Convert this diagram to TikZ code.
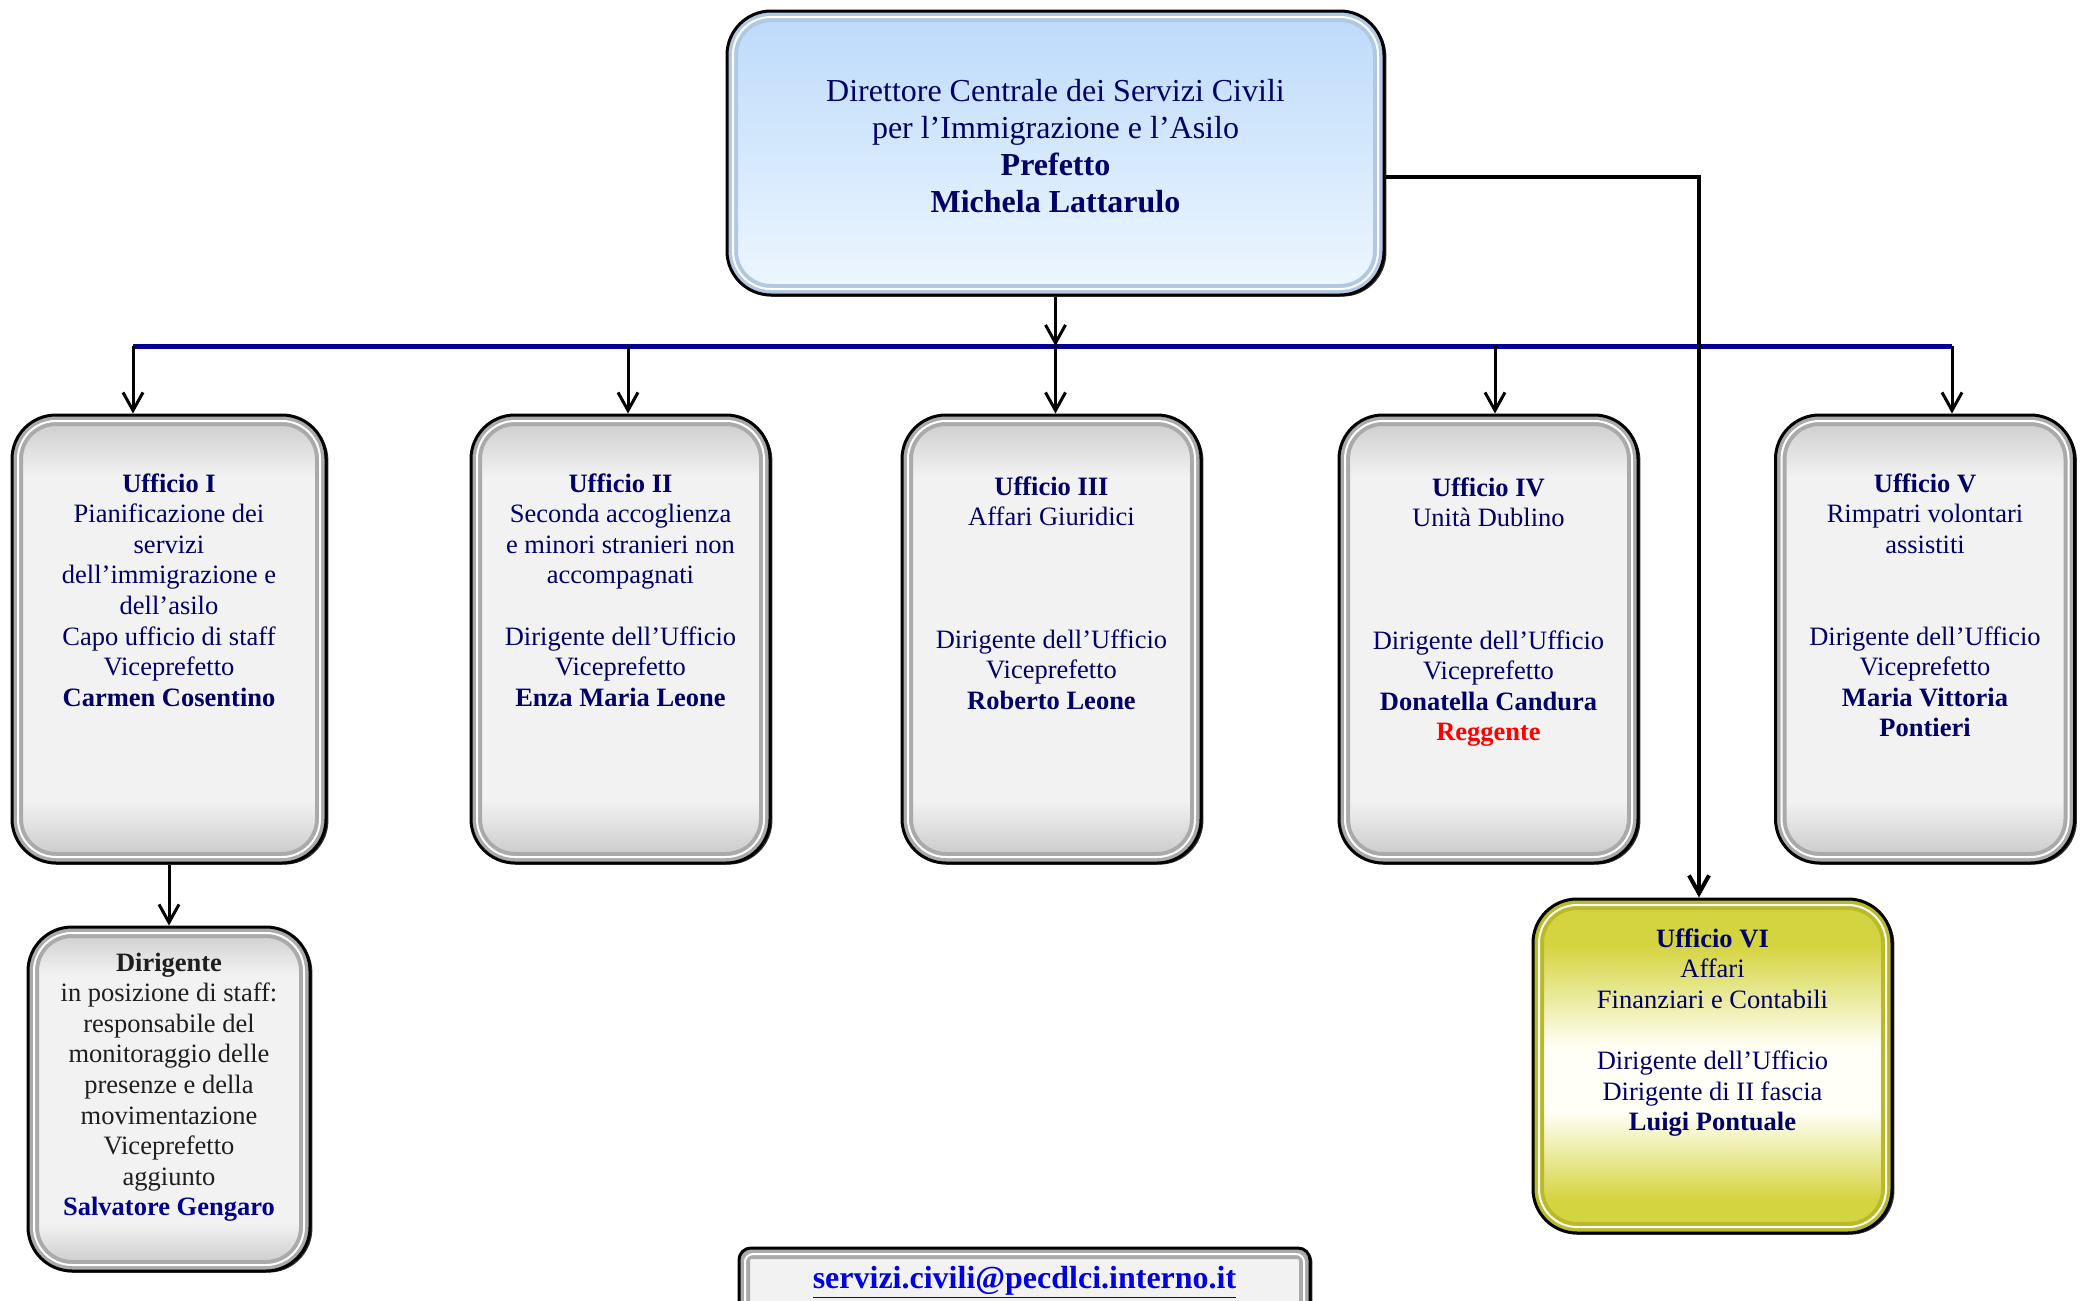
\documentclass[tikz,border=0pt]{standalone}
\usepackage{fontspec}
\setmainfont{Liberation Serif}
\usetikzlibrary{positioning,arrows.meta,shadows}

\definecolor{deptnavy}{RGB}{0,0,102}
\definecolor{busblue}{RGB}{0,0,150}
\definecolor{staffblue}{RGB}{0,0,140}
\definecolor{staffink}{RGB}{30,30,30}
\definecolor{mailblue}{RGB}{0,0,220}
\definecolor{reggred}{RGB}{255,0,0}
\definecolor{bandgray}{RGB}{170,170,170}
\definecolor{capblue}{RGB}{188,218,250}
\definecolor{baseblue}{RGB}{238,247,255}
\definecolor{bandblue}{RGB}{178,200,226}
\definecolor{contab}{RGB}{212,212,64}
\definecolor{bandolive}{RGB}{186,186,40}

\pgfdeclareverticalshading{officegray}{100bp}{color(0bp)=(gray!45); color(25bp)=(gray!45); color(32bp)=(gray!10); color(68bp)=(gray!10); color(75bp)=(gray!42); color(100bp)=(gray!42)}
\pgfdeclareverticalshading{chiefblue}{100bp}{color(0bp)=(baseblue); color(25bp)=(baseblue); color(75bp)=(capblue); color(100bp)=(capblue)}
\pgfdeclareverticalshading{contabyellow}{100bp}{color(0bp)=(contab); color(25bp)=(contab); color(30bp)=(contab); color(43bp)=(yellow!4); color(53bp)=(yellow!4); color(68bp)=(contab); color(75bp)=(contab); color(100bp)=(contab)}

\begin{document}
\begin{tikzpicture}[x=0.5pt,y=-0.5pt,on grid,
    bevel/.style n args={3}{path picture={
        \draw[#1,line width=11pt,rounded corners=#2]
          (path picture bounding box.south west) rectangle (path picture bounding box.north east);
        \draw[white,line width=1pt,rounded corners=#3]
          ([shift={(3pt,3pt)}]path picture bounding box.south west)
          rectangle ([shift={(-3pt,-3pt)}]path picture bounding box.north east);}},
    box/.style={draw=black,line width=1.5pt,rounded corners=22pt,align=flush center,
        inner xsep=4pt,inner ysep=0pt,
        drop shadow={shadow xshift=1.2pt,shadow yshift=-0.8pt,opacity=1,fill=black!80}},
    office/.style={box,shading=officegray,bevel={bandgray}{22pt}{19pt},text width=#1,
        text=deptnavy,font=\fontsize{13.25}{15.3}\selectfont,
        text height=38.5pt,text depth=185.5pt},
    office/.default=141.5pt,
    arr/.style={-{Straight Barb[length=9pt,width=10pt]},line width=1.5pt}]

    \useasboundingbox (0,0) rectangle (2085,1301);

    % direzione
    \node[box,shading=chiefblue,bevel={bandblue}{22pt}{19pt},text width=320.5pt,
          text height=45pt,text depth=97pt,text=deptnavy,font=\fontsize{16}{18.5}\selectfont]
        (chief) at (1055.5,153)
        {Direttore Centrale dei Servizi Civili\\per l'Immigrazione e l'Asilo\\
         \textbf{Prefetto}\\\textbf{Michela Lattarulo}};

    % uffici
    \node[office=149pt] (u1) at (169,639)
        {\textbf{Ufficio I}\\Pianificazione dei\\servizi\\dell'immigrazione e\\dell'asilo\\
         Capo ufficio di staff\\Viceprefetto\\\textbf{Carmen Cosentino}};
    \node[office] (u2) [right=225.75pt of u1]
        {\textbf{Ufficio II}\\Seconda accoglienza\\e minori stranieri non\\accompagnati\\[15.3pt]
         Dirigente dell'Ufficio\\Viceprefetto\\\textbf{Enza Maria Leone}};
    \node[office,text height=40pt,text depth=184pt] (u3) [right=215.5pt of u2]
        {\textbf{Ufficio III}\\Affari Giuridici\\[45.9pt]
         Dirigente dell'Ufficio\\Viceprefetto\\\textbf{Roberto Leone}};
    \node[office,text height=40.5pt,text depth=183.5pt] (u4) [right=218.5pt of u3]
        {\textbf{Ufficio IV}\\Unità Dublino\\[45.9pt]
         Dirigente dell'Ufficio\\Viceprefetto\\\textbf{Donatella Candura}\\
         \textcolor{reggred}{\textbf{Reggente}}};
    \node[office] (u5) [right=218.25pt of u4]
        {\textbf{Ufficio V}\\Rimpatri volontari\\assistiti\\[30.6pt]
         Dirigente dell'Ufficio\\Viceprefetto\\\textbf{Maria Vittoria}\\\textbf{Pontieri}};
    \node[office=133pt,text=staffink,text height=22pt,text depth=150pt] (staff) [below=230pt of u1]
        {\textbf{Dirigente}\\in posizione di staff:\\responsabile del\\monitoraggio delle\\
         presenze e della\\movimentazione\\Viceprefetto\\aggiunto\\
         \textcolor{staffblue}{\textbf{Salvatore Gengaro}}};
    \node[office=171.5pt,shading=contabyellow,bevel={bandolive}{22pt}{19pt},
          text height=24pt,text depth=143pt] (u6) at (1712.5,1066)
        {\textbf{Ufficio VI}\\Affari\\Finanziari e Contabili\\[15.3pt]
         Dirigente dell'Ufficio\\Dirigente di II fascia\\\textbf{Luigi Pontuale}};

    \node[box,shading=officegray,bevel={bandgray}{6pt}{4pt},rounded corners=6pt,
          text width=277.5pt,text height=20pt,text depth=20pt,text=mailblue,
          font=\fontsize{16}{19}\selectfont\bfseries]
        (mail) at (1024.5,1288) {\underline{servizi.civili@pecdlci.interno.it}};

    % collegamenti
    \coordinate (busL) at (133,346);
    \coordinate (busR) at (1952,346);
    \draw[busblue,line width=2.5pt] (busL) -- (busR);
    \path[arr]
        (chief.south) edge (chief.south |- busL)
        (chief.south |- busL) edge (chief.south |- u3.north)
        (busL) edge (busL |- u1.north)
        ([xshift=3.75pt]u2.north |- busL) edge ([xshift=3.75pt]u2.north)
        ([xshift=3.25pt]u4.north |- busL) edge ([xshift=3.25pt]u4.north)
        (busR) edge (busR |- u5.north)
        (u1.south) edge (staff.north);
    \draw[arr,line width=2pt] ([yshift=-12pt]chief.east) -| ([xshift=-6.75pt]u6.north);
\end{tikzpicture}
\end{document}
